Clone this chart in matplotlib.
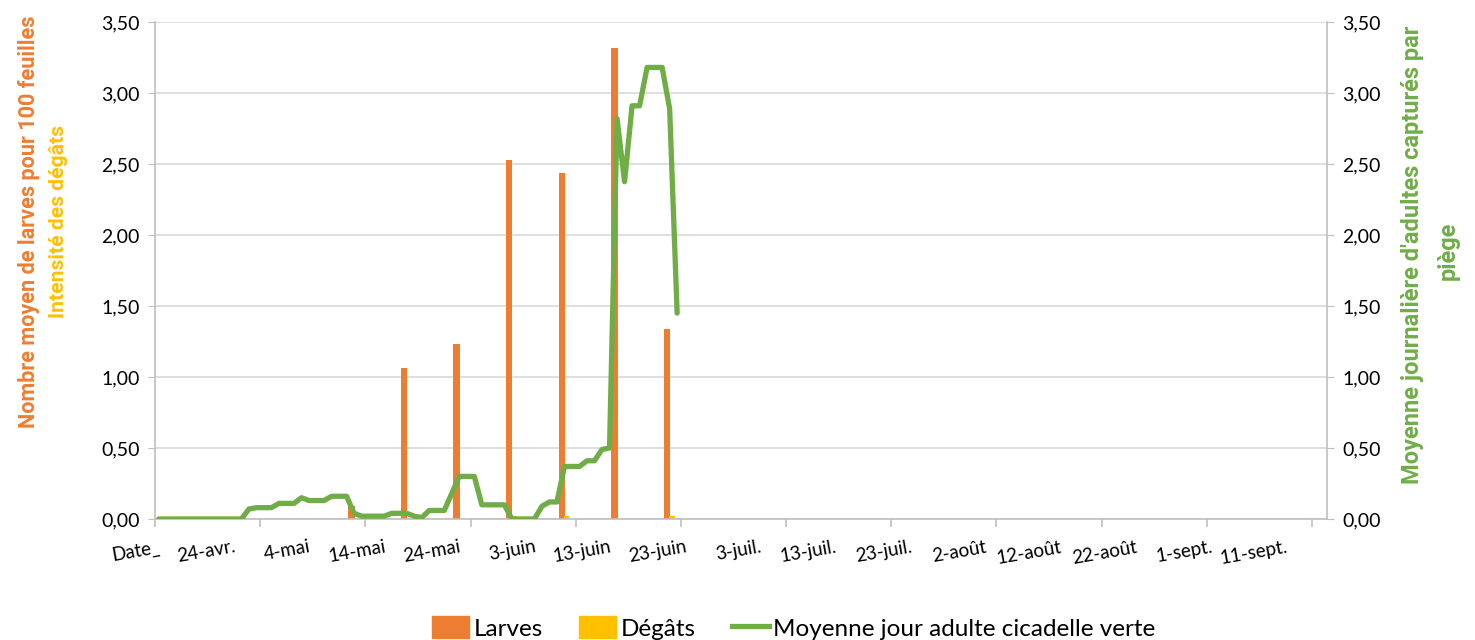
import numpy as np
import matplotlib
matplotlib.use('Agg')
import matplotlib.pyplot as plt
from matplotlib.patches import Patch
from matplotlib.lines import Line2D

plt.rcParams['font.family'] = ['Lato', 'DejaVu Sans']

# categories : "Date_" puis un jour par categorie (15-avr. -> 16-sept.)
n_cat = 156
tick_pos = list(range(0, 151, 10))
tick_labels = ['Date_', '24-avr.', '4-mai', '14-mai', '24-mai', '3-juin', '13-juin',
               '23-juin', '3-juil.', '13-juil.', '23-juil.', '2-août', '12-août',
               '22-août', '1-sept.', '11-sept.']

# relevés hebdomadaires (indice de categorie)
obs_idx = [26, 33, 40, 47, 54, 61, 68]
larves = [0.09, 1.06, 1.23, 2.53, 2.44, 3.32, 1.34]
degats = [0.0, 0.0, 0.0, 0.02, 0.02, 0.0, 0.02]

# moyenne jour adultes cicadelle verte (categories 0 -> 69)
adultes = [0, 0, 0, 0, 0, 0, 0, 0, 0, 0, 0, 0,
           0.07, 0.08, 0.08, 0.08, 0.11, 0.11, 0.11, 0.15, 0.13, 0.13,
           0.13, 0.16, 0.16, 0.16, 0.04, 0.02, 0.02, 0.02, 0.02, 0.04,
           0.04, 0.04, 0.02, 0.01, 0.06, 0.06, 0.06, 0.18, 0.30, 0.30,
           0.30, 0.10, 0.10, 0.10, 0.10, 0, 0, 0, 0, 0.09,
           0.12, 0.12, 0.37, 0.37, 0.37, 0.41, 0.41, 0.49, 0.50, 2.82,
           2.375, 2.91, 2.91, 3.18, 3.18, 3.18, 2.89, 1.45]

ORANGE = '#ED7D31'
YELLOW = '#FFC000'
GREEN = '#70AD47'
GRID = '#D9D9D9'
SPINE = '#BFBFBF'
LABEL_FONT = ['Roboto', 'DejaVu Sans']

fig = plt.figure(figsize=(14.75, 6.4), dpi=100)
ax = fig.add_axes([155/1475, 121/640, 1172/1475, 497/640])
ax2 = ax.twinx()

obs = np.array(obs_idx)
ax.bar(obs - 0.35, larves, width=0.85, color=ORANGE, zorder=2)
ax.bar(obs + 0.3, degats, width=0.7, color=YELLOW, zorder=2)
ax2.plot(np.arange(len(adultes)), adultes, color=GREEN, lw=3.8, solid_joinstyle='round',
         solid_capstyle='round', zorder=3)

yt = np.arange(0, 3.51, 0.5)
ylabs = [f'{v:.2f}'.replace('.', ',') for v in yt]
for a in (ax, ax2):
    a.set_xlim(-0.5, n_cat - 0.5)
    a.set_ylim(0, 3.5)
    a.set_yticks(yt)
    a.set_yticklabels(ylabs)
    a.tick_params(axis='y', length=5, color=SPINE, labelsize=14, pad=6)
    for s in a.spines.values():
        s.set_visible(False)

ax.spines['left'].set_visible(True)
ax.spines['bottom'].set_visible(True)
ax2.spines['right'].set_visible(True)
for s in (ax.spines['left'], ax.spines['bottom'], ax2.spines['right']):
    s.set_color(SPINE)
    s.set_linewidth(1.2)

ax.grid(axis='y', color=GRID, lw=1.2, zorder=0)
ax.set_axisbelow(True)

ax.set_xticks(tick_pos)
ax.set_xticklabels(tick_labels, rotation=10, ha='right', va='top', rotation_mode='anchor')
ax.tick_params(axis='x', which='major', length=0, labelsize=13.5, pad=14)
ax.set_xticks(np.arange(-0.5, n_cat, 14), minor=True)
ax.tick_params(axis='x', which='minor', length=6, color=SPINE, width=1.2)

fig.text(29/1475, 1 - 222/640, 'Nombre moyen de larves pour 100 feuilles', rotation=90,
         ha='center', va='center', color=ORANGE, fontsize=15.6, fontweight='bold',
         family=LABEL_FONT)
fig.text(58/1475, 1 - 222/640, 'Intensité des dégâts', rotation=90,
         ha='center', va='center', color=YELLOW, fontsize=15.2, fontweight='bold',
         family=LABEL_FONT)
fig.text(1412/1475, 1 - 255/640, "Moyenne journalière d'adultes capturés par", rotation=90,
         ha='center', va='center', color=GREEN, fontsize=17, fontweight='bold',
         family=LABEL_FONT)
fig.text(1448/1475, 1 - 251/640, 'piège', rotation=90,
         ha='center', va='center', color=GREEN, fontsize=17, fontweight='bold',
         family=LABEL_FONT)

handles = [Patch(color=ORANGE, label='Larves'),
           Patch(color=YELLOW, label='Dégâts'),
           Line2D([], [], color=GREEN, lw=3.8, label='Moyenne jour adulte cicadelle verte')]
fig.legend(handles=handles, loc='center', bbox_to_anchor=(794/1475, 12/640), ncol=3,
           frameon=False, fontsize=17.5, handlelength=1.5, handleheight=1.0,
           columnspacing=1.5, handletextpad=0.2)

fig.savefig('out.png', dpi=100)
